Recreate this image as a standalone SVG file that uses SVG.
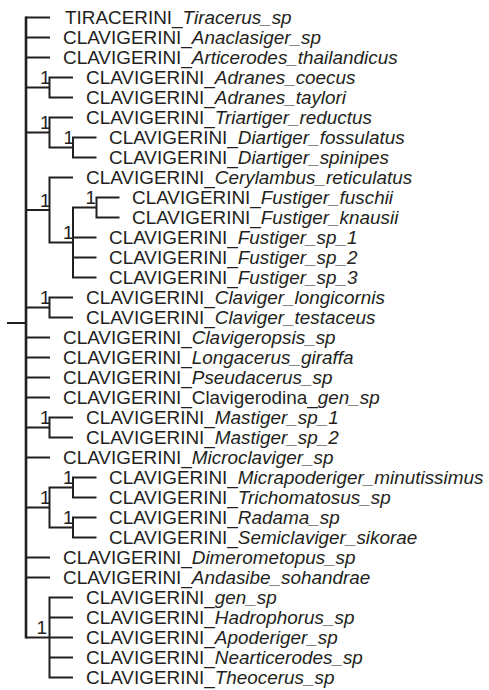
<svg xmlns="http://www.w3.org/2000/svg" width="489" height="690" viewBox="0 0 489 690">
<style>
.t{font-family:"Liberation Sans",Arial,sans-serif;font-size:18.9px;fill:#231f20}
.i{font-style:italic}
.s{text-anchor:end}
.c{fill:none;stroke:#231f20;stroke-width:2;stroke-linejoin:miter}
.r{fill:none;stroke:#231f20;stroke-width:2.6}
</style>
<rect width="489" height="690" fill="#ffffff"/>
<g id="connectors">
<path class="r" d="M26,16.5V638.5"/>
<path class="c" d="M7,323H26"/>
<path class="c" d="M26,17.5H50M26,37.5H50M26,57.5H50M26,337.5H50M26,357.5H50M26,377.5H50M26,397.5H50M26,457.5H50M26,557.5H50M26,577.5H50"/>
<path class="c" d="M26,87.5H49.5M26,132.5H49.5M26,210H49.5M26,307.5H49.5M26,427.5H49.5M26,507.5H49.5M26,637.5H49.5"/>
<path class="c" d="M73,77.5H49.5V97.5H73"/>
<path class="c" d="M73,117.5H49.5V147.5H73"/>
<path class="c" d="M96.5,137.5H73V157.5H96.5"/>
<path class="c" d="M73,177.5H49.5V242.5H73"/>
<path class="c" d="M96.5,207.5H73V277.5H96.5M73,237.5H96.5M73,257.5H96.5"/>
<path class="c" d="M119.5,197.5H96.5V217.5H119.5"/>
<path class="c" d="M73,297.5H49.5V317.5H73"/>
<path class="c" d="M73,417.5H49.5V437.5H73"/>
<path class="c" d="M73,487.5H49.5V527.5H73"/>
<path class="c" d="M96.5,477.5H73V497.5H96.5"/>
<path class="c" d="M96.5,517.5H73V537.5H96.5"/>
<path class="c" d="M73,597.5H49.5V677.5H73M49.5,617.5H73M49.5,637.5H73M49.5,657.5H73"/>
</g>
<g id="n1"><text class="t" x="65" y="24.2">TIRACERINI_<tspan class="i">Tiracerus_sp</tspan></text></g>
<g id="n2"><text class="t" x="63" y="44.2">CLAVIGERINI_<tspan class="i">Anaclasiger_sp</tspan></text></g>
<g id="n3"><text class="t" x="63" y="64.2">CLAVIGERINI_<tspan class="i">Articerodes_thailandicus</tspan></text></g>
<g id="n4"><text class="t" x="86" y="84.2">CLAVIGERINI_<tspan class="i">Adranes_coecus</tspan></text></g>
<g id="n5"><text class="t" x="86" y="104.2">CLAVIGERINI_<tspan class="i">Adranes_taylori</tspan></text></g>
<g id="n6"><text class="t" x="86" y="124.2">CLAVIGERINI_<tspan class="i">Triartiger_reductus</tspan></text></g>
<g id="n7"><text class="t" x="109" y="144.2">CLAVIGERINI_<tspan class="i">Diartiger_fossulatus</tspan></text></g>
<g id="n8"><text class="t" x="109" y="164.2">CLAVIGERINI_<tspan class="i">Diartiger_spinipes</tspan></text></g>
<g id="n9"><text class="t" x="86" y="184.2">CLAVIGERINI_<tspan class="i">Cerylambus_reticulatus</tspan></text></g>
<g id="n10"><text class="t" x="132" y="204.2">CLAVIGERINI_<tspan class="i">Fustiger_fuschii</tspan></text></g>
<g id="n11"><text class="t" x="132" y="224.2">CLAVIGERINI_<tspan class="i">Fustiger_knausii</tspan></text></g>
<g id="n12"><text class="t" x="109" y="244.2">CLAVIGERINI_<tspan class="i">Fustiger_sp_1</tspan></text></g>
<g id="n13"><text class="t" x="109" y="264.2">CLAVIGERINI_<tspan class="i">Fustiger_sp_2</tspan></text></g>
<g id="n14"><text class="t" x="109" y="284.2">CLAVIGERINI_<tspan class="i">Fustiger_sp_3</tspan></text></g>
<g id="n15"><text class="t" x="86" y="304.2">CLAVIGERINI_<tspan class="i">Claviger_longicornis</tspan></text></g>
<g id="n16"><text class="t" x="86" y="324.2">CLAVIGERINI_<tspan class="i">Claviger_testaceus</tspan></text></g>
<g id="n17"><text class="t" x="63" y="344.2">CLAVIGERINI_<tspan class="i">Clavigeropsis_sp</tspan></text></g>
<g id="n18"><text class="t" x="63" y="364.2">CLAVIGERINI_<tspan class="i">Longacerus_giraffa</tspan></text></g>
<g id="n19"><text class="t" x="63" y="384.2">CLAVIGERINI_<tspan class="i">Pseudacerus_sp</tspan></text></g>
<g id="n20"><text class="t" x="63" y="404.2">CLAVIGERINI_Clavigerodina_<tspan class="i">gen_sp</tspan></text></g>
<g id="n21"><text class="t" x="86" y="424.2">CLAVIGERINI_<tspan class="i">Mastiger_sp_1</tspan></text></g>
<g id="n22"><text class="t" x="86" y="444.2">CLAVIGERINI_<tspan class="i">Mastiger_sp_2</tspan></text></g>
<g id="n23"><text class="t" x="63" y="464.2">CLAVIGERINI_<tspan class="i">Microclaviger_sp</tspan></text></g>
<g id="n24"><text class="t" x="109" y="484.2">CLAVIGERINI_<tspan class="i">Micrapoderiger_minutissimus</tspan></text></g>
<g id="n25"><text class="t" x="109" y="504.2">CLAVIGERINI_<tspan class="i">Trichomatosus_sp</tspan></text></g>
<g id="n26"><text class="t" x="109" y="524.2">CLAVIGERINI_<tspan class="i">Radama_sp</tspan></text></g>
<g id="n27"><text class="t" x="109" y="544.2">CLAVIGERINI_<tspan class="i">Semiclaviger_sikorae</tspan></text></g>
<g id="n28"><text class="t" x="63" y="564.2">CLAVIGERINI_<tspan class="i">Dimerometopus_sp</tspan></text></g>
<g id="n29"><text class="t" x="63" y="584.2">CLAVIGERINI_<tspan class="i">Andasibe_sohandrae</tspan></text></g>
<g id="n30"><text class="t" x="86" y="604.2">CLAVIGERINI_<tspan class="i">gen_sp</tspan></text></g>
<g id="n31"><text class="t" x="86" y="624.2">CLAVIGERINI_<tspan class="i">Hadrophorus_sp</tspan></text></g>
<g id="n32"><text class="t" x="86" y="644.2">CLAVIGERINI_<tspan class="i">Apoderiger_sp</tspan></text></g>
<g id="n33"><text class="t" x="86" y="664.2">CLAVIGERINI_<tspan class="i">Nearticerodes_sp</tspan></text></g>
<g id="n34"><text class="t" x="86" y="684.2">CLAVIGERINI_<tspan class="i">Theocerus_sp</tspan></text></g>
<g id="sA"><text class="t s" x="50.5" y="84">1</text></g>
<g id="sB"><text class="t s" x="50.5" y="129">1</text></g>
<g id="sB2"><text class="t s" x="74" y="144">1</text></g>
<g id="sC"><text class="t s" x="50.5" y="206.5">1</text></g>
<g id="sC2"><text class="t s" x="73.5" y="239">1</text></g>
<g id="sC3"><text class="t s" x="96" y="204">1</text></g>
<g id="sD"><text class="t s" x="50.5" y="304">1</text></g>
<g id="sE"><text class="t s" x="50.5" y="424">1</text></g>
<g id="sF"><text class="t s" x="50.5" y="504">1</text></g>
<g id="sF1"><text class="t s" x="73.5" y="484">1</text></g>
<g id="sF2"><text class="t s" x="73.5" y="524">1</text></g>
<g id="sG"><text class="t s" x="47" y="634">1</text></g>
</svg>
